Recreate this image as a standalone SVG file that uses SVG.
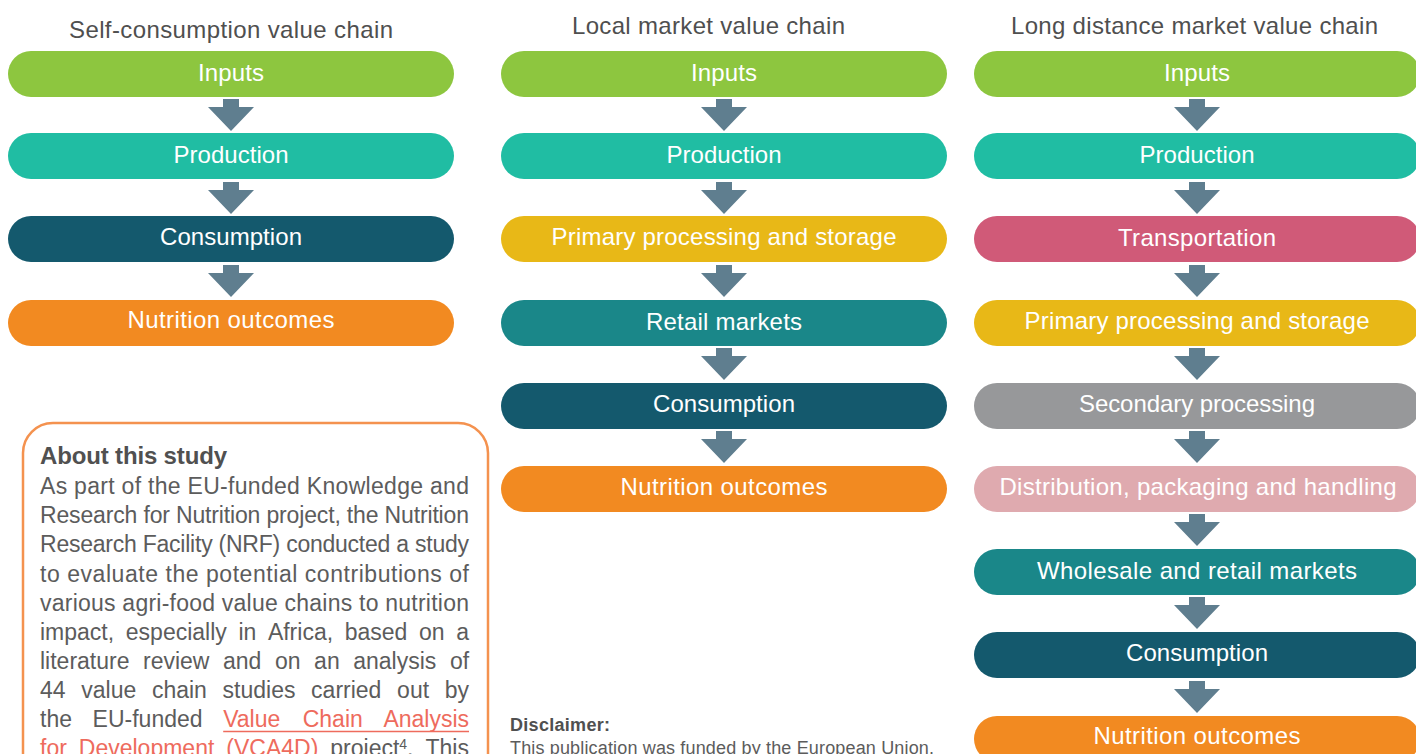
<svg xmlns="http://www.w3.org/2000/svg" xmlns:xlink="http://www.w3.org/1999/xlink" width="1416" height="754" viewBox="0 0 1416 754">
<style>
.title{font-family:'Liberation Sans',Arial,sans-serif;font-size:24px;fill:#4f4f4f;text-anchor:middle}
.lbl{font-family:'Liberation Sans',Arial,sans-serif;font-size:24px;fill:#ffffff;text-anchor:middle}
.body{font-family:'Liberation Sans',Arial,sans-serif;font-size:23px;fill:#5c5c5c}
.bold{font-family:'Liberation Sans',Arial,sans-serif;font-weight:bold;fill:#505050}
.link{fill:#ee6b5d}
.green{fill:#8dc63f}.teal{fill:#20bda3}.dark{fill:#14596d}.orange{fill:#f28a21}
.yellow{fill:#e8b817}.teal2{fill:#1a8789}.rose{fill:#d05a78}.grey{fill:#97989a}.pink{fill:#dfaaaf}
.arrow{fill:#5f7e8f}
</style>
<defs>
<path id="arr" d="M-8,0 H8 V8 H23 L0,32 L-23,8 H-8 Z"/>
</defs>
<rect width="1416" height="754" fill="#ffffff"/>

<g id="titles">
<text class="title" x="231" y="38" textLength="324">Self-consumption value chain</text>
<text class="title" x="708.5" y="34" textLength="273">Local market value chain</text>
<text class="title" x="1194.5" y="34" textLength="367">Long distance market value chain</text>
</g>

<!-- Left column -->
<g id="l-inputs"><rect class="green" x="8" y="51" width="446" height="46" rx="23"/><text class="lbl" x="231" y="81" textLength="66">Inputs</text></g>
<g id="l-production"><rect class="teal" x="8" y="133" width="446" height="46" rx="23"/><text class="lbl" x="231" y="163" textLength="115">Production</text></g>
<g id="l-consumption"><rect class="dark" x="8" y="216" width="446" height="46" rx="23"/><text class="lbl" x="231" y="245" textLength="142">Consumption</text></g>
<g id="l-nutrition"><rect class="orange" x="8" y="300" width="446" height="46" rx="23"/><text class="lbl" x="231" y="328" textLength="207">Nutrition outcomes</text></g>

<!-- Middle column -->
<g id="m-inputs"><rect class="green" x="501" y="51" width="446" height="46" rx="23"/><text class="lbl" x="724" y="81" textLength="66">Inputs</text></g>
<g id="m-production"><rect class="teal" x="501" y="133" width="446" height="46" rx="23"/><text class="lbl" x="724" y="163" textLength="115">Production</text></g>
<g id="m-primary"><rect class="yellow" x="501" y="216" width="446" height="46" rx="23"/><text class="lbl" x="724" y="245" textLength="345">Primary processing and storage</text></g>
<g id="m-retail"><rect class="teal2" x="501" y="300" width="446" height="46" rx="23"/><text class="lbl" x="724" y="330" textLength="156">Retail markets</text></g>
<g id="m-consumption"><rect class="dark" x="501" y="383" width="446" height="46" rx="23"/><text class="lbl" x="724" y="412" textLength="142">Consumption</text></g>
<g id="m-nutrition"><rect class="orange" x="501" y="466" width="446" height="46" rx="23"/><text class="lbl" x="724" y="495" textLength="207">Nutrition outcomes</text></g>

<!-- Right column -->
<g id="r-inputs"><rect class="green" x="974" y="51" width="446" height="46" rx="23"/><text class="lbl" x="1197" y="81" textLength="66">Inputs</text></g>
<g id="r-production"><rect class="teal" x="974" y="133" width="446" height="46" rx="23"/><text class="lbl" x="1197" y="163" textLength="115">Production</text></g>
<g id="r-transport"><rect class="rose" x="974" y="216" width="446" height="46" rx="23"/><text class="lbl" x="1197" y="246" textLength="158">Transportation</text></g>
<g id="r-primary"><rect class="yellow" x="974" y="300" width="446" height="46" rx="23"/><text class="lbl" x="1197" y="329" textLength="345">Primary processing and storage</text></g>
<g id="r-secondary"><rect class="grey" x="974" y="383" width="446" height="46" rx="23"/><text class="lbl" x="1197" y="412" textLength="236">Secondary processing</text></g>
<g id="r-distribution"><rect class="pink" x="974" y="466" width="446" height="46" rx="23"/><text class="lbl" x="1198" y="495" textLength="397">Distribution, packaging and handling</text></g>
<g id="r-wholesale"><rect class="teal2" x="974" y="549" width="446" height="46" rx="23"/><text class="lbl" x="1197" y="579" textLength="320">Wholesale and retail markets</text></g>
<g id="r-consumption"><rect class="dark" x="974" y="632" width="446" height="46" rx="23"/><text class="lbl" x="1197" y="661" textLength="142">Consumption</text></g>
<g id="r-nutrition"><rect class="orange" x="974" y="716" width="446" height="46" rx="23"/><text class="lbl" x="1197" y="744" textLength="207">Nutrition outcomes</text></g>

<g id="connectors" class="arrow">
<use href="#arr" x="231" y="99"/>
<use href="#arr" x="231" y="182"/>
<use href="#arr" x="231" y="265"/>
<use href="#arr" x="724" y="99"/>
<use href="#arr" x="724" y="182"/>
<use href="#arr" x="724" y="265"/>
<use href="#arr" x="724" y="348"/>
<use href="#arr" x="724" y="431"/>
<use href="#arr" x="1197" y="99"/>
<use href="#arr" x="1197" y="182"/>
<use href="#arr" x="1197" y="265"/>
<use href="#arr" x="1197" y="348"/>
<use href="#arr" x="1197" y="431"/>
<use href="#arr" x="1197" y="514"/>
<use href="#arr" x="1197" y="597"/>
<use href="#arr" x="1197" y="681"/>
</g>

<g id="about">
<rect x="23" y="423" width="465" height="400" rx="30" fill="none" stroke="#f4924f" stroke-width="2.5"/>
<text class="bold" x="40" y="464" font-size="24" textLength="187">About this study</text>
<g class="body">
<text x="40" y="494" textLength="429" lengthAdjust="spacing">As part of the EU-funded Knowledge and</text>
<text x="40" y="523" textLength="429" lengthAdjust="spacing">Research for Nutrition project, the Nutrition</text>
<text x="40" y="552" textLength="429" lengthAdjust="spacing">Research Facility (NRF) conducted a study</text>
<text x="40" y="582" textLength="429" lengthAdjust="spacing">to evaluate the potential contributions of</text>
<text x="40" y="611" textLength="429" lengthAdjust="spacing">various agri-food value chains to nutrition</text>
<text y="640"><tspan x="40">impact,</tspan><tspan x="125.8">especially</tspan><tspan x="238.4">in</tspan><tspan x="267.9">Africa,</tspan><tspan x="344.7">based</tspan><tspan x="419">on</tspan><tspan x="456.2">a</tspan></text>
<text y="669"><tspan x="40">literature</tspan><tspan x="143">review</tspan><tspan x="223">and</tspan><tspan x="274.9">on</tspan><tspan x="314.1">an</tspan><tspan x="353.2">analysis</tspan><tspan x="449.9">of</tspan></text>
<text y="698"><tspan x="40">44</tspan><tspan x="81.3">value</tspan><tspan x="151.9">chain</tspan><tspan x="222.6">studies</tspan><tspan x="311.1">carried</tspan><tspan x="397.1">out</tspan><tspan x="444.7">by</tspan></text>
<text y="727"><tspan x="40">the</tspan><tspan x="92.6">EU-funded</tspan><tspan class="link" x="223.2">Value</tspan><tspan class="link" x="302.7">Chain</tspan><tspan class="link" x="383.4">Analysis</tspan></text>
<text y="756"><tspan class="link" x="40">for</tspan><tspan class="link" x="78.8">Development</tspan><tspan class="link" x="226.3">(VCA4D)</tspan><tspan x="330.3">project</tspan><tspan x="399.3" y="749" font-size="14">4</tspan><tspan x="407.1" y="756">.</tspan><tspan x="425.5">This</tspan></text>
</g>
<line x1="223.2" y1="731.5" x2="469" y2="731.5" stroke="#ee6b5d" stroke-width="1.5"/>
</g>

<g id="disclaimer">
<text class="bold" x="510" y="731" font-size="18" textLength="100">Disclaimer:</text>
<text x="510" y="754" font-family="'Liberation Sans',Arial,sans-serif" font-size="18" fill="#5c5c5c" textLength="424">This publication was funded by the European Union.</text>
</g>
</svg>
